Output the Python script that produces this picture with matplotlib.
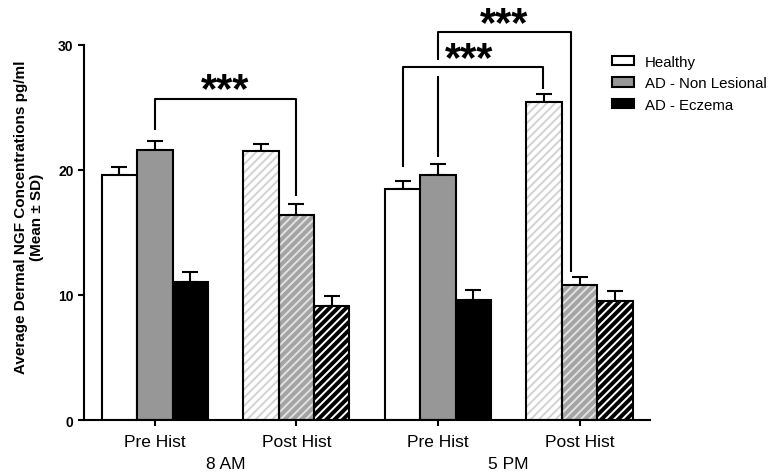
import matplotlib
matplotlib.use('Agg')
import matplotlib.pyplot as plt
from matplotlib.patches import Patch
import numpy as np

plt.rcParams['font.family'] = ['Liberation Sans', 'DejaVu Sans']
plt.rcParams['hatch.linewidth'] = 1.4

# NGF concentrations (pg/ml), order: 8AM pre, 8AM post, 5PM pre, 5PM post
groups = ['Pre Hist', 'Post Hist', 'Pre Hist', 'Post Hist']
times = ['8 AM', '5 PM']
series = ['Healthy', 'AD - Non Lesional', 'AD - Eczema']
healthy = [19.6, 21.5, 18.5, 25.4]
non_lesional = [21.6, 16.4, 19.6, 10.8]
eczema = [11.0, 9.1, 9.6, 9.5]
healthy_sd = [0.6, 0.6, 0.6, 0.7]
non_lesional_sd = [0.7, 0.9, 0.9, 0.6]
eczema_sd = [0.8, 0.8, 0.8, 0.8]

means = [healthy, non_lesional, eczema]
sds = [healthy_sd, non_lesional_sd, eczema_sd]
face = ['white', '#979797', 'black']
# post-histamine bars are hatched: (background, stripe colour)
post_face = [('white', '#d2d2d2'), ('#a4a4a4', '#e2e2e2'), ('black', 'white')]

fig = plt.figure(figsize=(7.73, 4.77), dpi=100)
ax = fig.add_axes([0.1087, 0.1174, 0.7326, 0.7862])

x = np.arange(1, 5)
w = 0.25
for i in range(3):
    xs = x + (i - 1) * w
    for j in range(4):
        if groups[j] == 'Post Hist':
            bg, st = post_face[i]
            ax.bar(xs[j], means[i][j], w, color=bg, edgecolor=st, hatch='////', linewidth=0, zorder=2)
            ax.bar(xs[j], means[i][j], w, fill=False, edgecolor='black', linewidth=1.5, zorder=3)
        else:
            ax.bar(xs[j], means[i][j], w, color=face[i], edgecolor='black', linewidth=1.5, zorder=2)
    ax.errorbar(xs, means[i], yerr=[np.zeros(4), sds[i]], fmt='none', ecolor='black',
                elinewidth=1.5, capsize=5.5, capthick=1.5, zorder=1)

ax.set_xlim(0.5, 4.5)
ax.set_ylim(0, 30)
ax.set_yticks([0, 10, 20, 30])
ax.set_yticklabels(['0', '10', '20', '30'], fontweight='bold', fontsize=10)
ax.set_xticks(x)
ax.set_xticklabels(groups, fontsize=12.5)
ax.tick_params(axis='both', width=1.5, length=4, direction='out')
ax.tick_params(axis='x', pad=6)
for s in ['top', 'right']:
    ax.spines[s].set_visible(False)
for s in ['left', 'bottom']:
    ax.spines[s].set_linewidth(1.5)

ax.set_ylabel('Average Dermal NGF Concentrations pg/ml\n(Mean \u00b1 SD)', fontweight='bold',
              fontsize=11, labelpad=10)
ax.yaxis.set_label_coords(-0.07, 0.544)

# time-of-day labels under each pair of groups
for k, t in enumerate(times):
    ax.text(x[2 * k] + 0.5, -2.9, t, ha='center', va='top', fontsize=12.5, clip_on=False)

lk = dict(color='black', lw=1.5, clip_on=False, solid_capstyle='butt')
sk = dict(ha='center', va='center', fontsize=30, fontweight='bold', clip_on=False)
# 8 AM: non lesional pre vs post
ax.plot([1, 1, 2, 2], [23.2, 25.7, 25.7, 17.9], **lk)
ax.text(1.5, 26.4, '***', **sk)
# 5 PM: healthy pre vs post
ax.plot([2.75, 2.75, 3.745, 3.745], [20.2, 28.2, 28.2, 26.5], **lk)
ax.text(3.22, 28.9, '***', **sk)
# 5 PM: non lesional pre vs post
ax.plot([3.0, 3.0], [21.0, 27.5], **lk)
ax.plot([3.0, 3.0, 3.94, 3.94], [28.8, 31.0, 31.0, 11.8], **lk)
ax.text(3.47, 31.7, '***', **sk)

handles = [Patch(facecolor=c, edgecolor='black', linewidth=1.5) for c in face]
ax.legend(handles, series, loc='upper left', bbox_to_anchor=(0.922, 0.99), frameon=False,
          fontsize=10.8, handlelength=1.45, handleheight=0.6, handletextpad=0.75,
          labelspacing=0.5, borderaxespad=0)

fig.savefig('out.png', dpi=100)
